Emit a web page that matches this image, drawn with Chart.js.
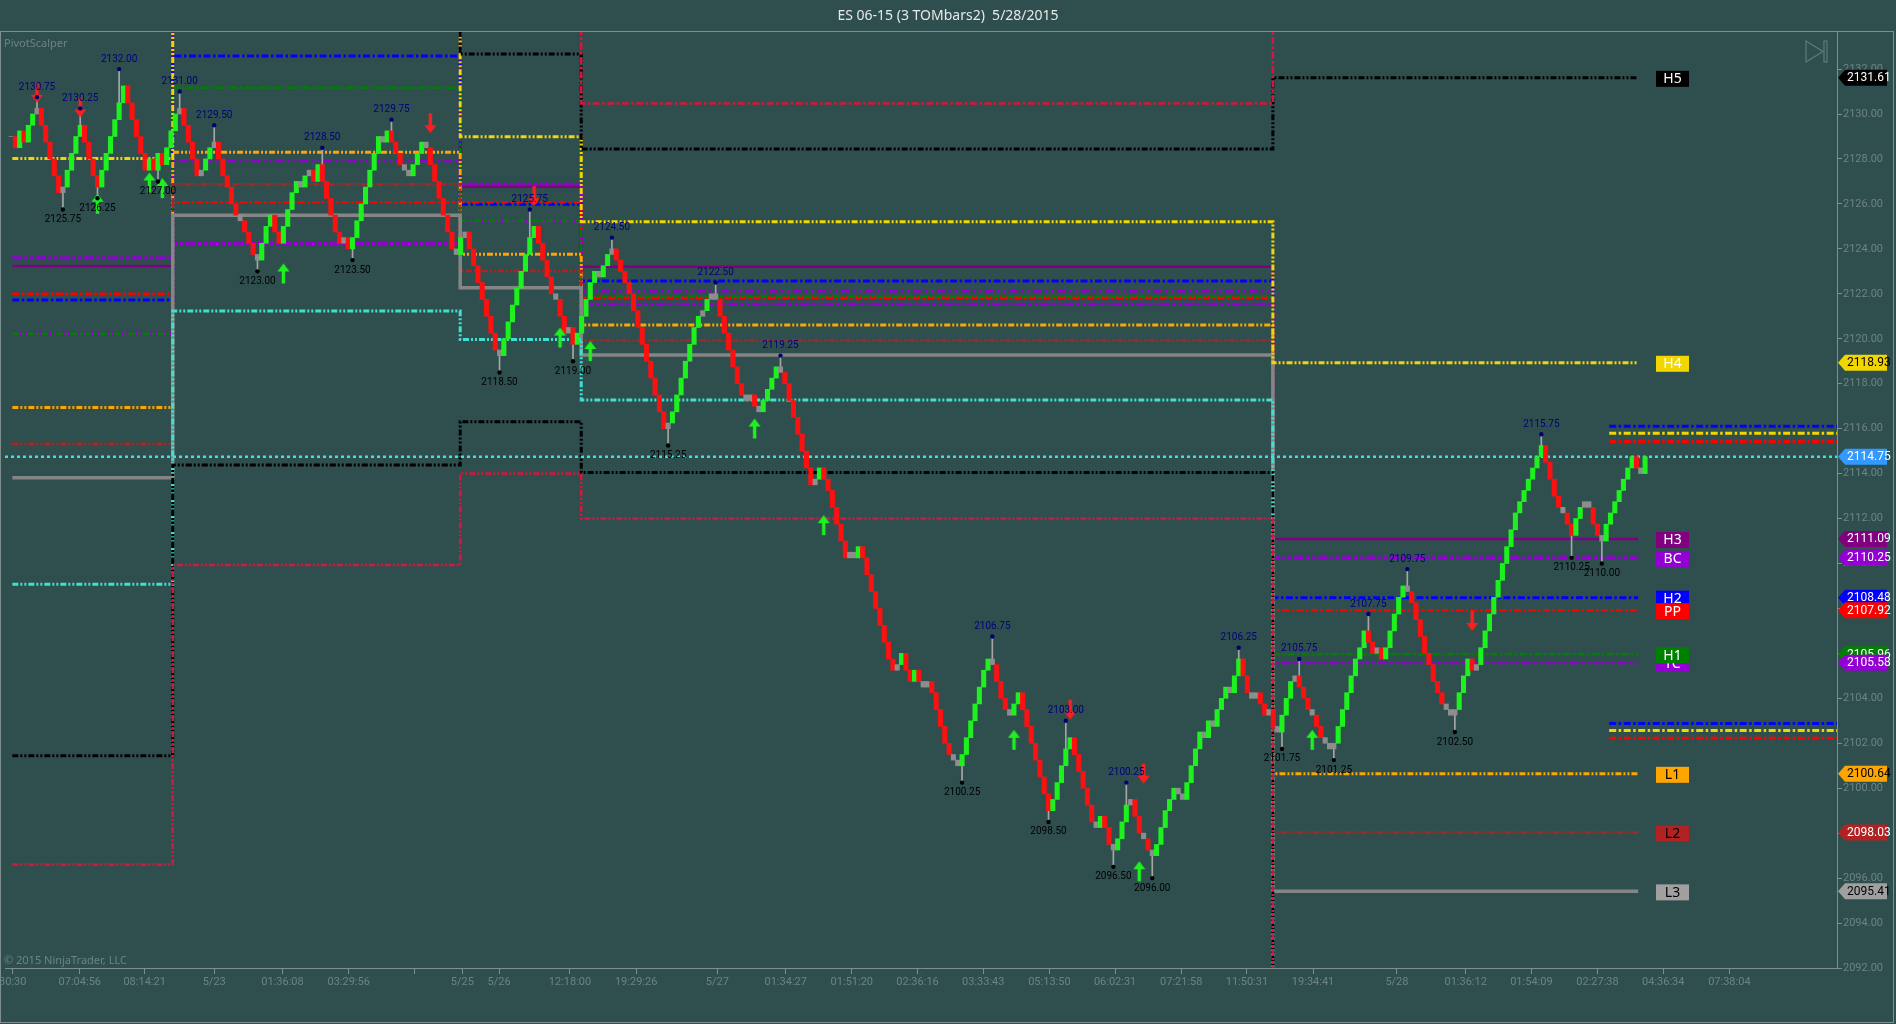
<!DOCTYPE html>
<html>
<head>
<meta charset="utf-8">
<title>ES 06-15 (3 TOMbars2) 5/28/2015</title>
<script src="https://cdn.jsdelivr.net/npm/chart.js@4.4.1/dist/chart.umd.min.js"></script>
<style>
  html, body { margin: 0; padding: 0; background: #2f4f4f; overflow: hidden; }
  canvas { display: block; }
</style>
</head>
<body>
<canvas id="grafico" width="1896" height="1024"></canvas>
<script>
// Cierres de cada barra (3 TOMbars2)
var cierres = [
  2129, 2128.5, 2129.25, 2128.75, 2129.5, 2130, 2130.25,
  2129.5, 2128.75, 2128, 2127.25, 2126.5,
  2126.75, 2127.5, 2128.25, 2129, 2129.5,
  2128.75, 2128, 2127.25, 2126.75,
  2127.5, 2128.25, 2129, 2129.75, 2130.5, 2131.25,
  2130.5, 2129.75, 2129, 2128.25, 2127.5,
  2128, 2127.5, 2128.25, 2127.75,
  2128.5, 2129.25, 2130, 2130.25,
  2129.5, 2128.75, 2128, 2127.25,
  2127.5, 2128, 2128.5, 2128.75,
  2128, 2127.25, 2126.75, 2126, 2125.5, 2125.25, 2124.75, 2124.25, 2123.75, 2123.5,
  2124.25, 2125, 2125.5,
  2124.75, 2124.25,
  2125, 2125.75, 2126.5, 2127, 2126.75, 2127.25, 2127.5, 2127, 2127.75,
  2127, 2126.25, 2125.5, 2124.75, 2124.25, 2124.5, 2124, 2124.5,
  2125.25, 2126, 2126.75, 2127.5, 2128.25, 2129, 2128.75, 2129.25, 2128.75,
  2128.25, 2127.75, 2127.5, 2127.25, 2127.75,
  2128.25, 2128.75, 2128.5,
  2127.75, 2127, 2126.25, 2125.5, 2124.75, 2124, 2123.75, 2124.5, 2124.75, 2124, 2123.25, 2122.5, 2121.75, 2121, 2120.25, 2119.5, 2119.25,
  2120, 2120.75, 2121.5, 2122.25, 2123, 2123.75, 2124.5, 2125,
  2124.25, 2123.5, 2122.75, 2122, 2121.75, 2121, 2120.25, 2120.5, 2119.75, 2120.25,
  2121, 2121.75, 2122.5, 2123, 2122.75, 2123.25, 2123.75, 2124,
  2123.5, 2123, 2122.5, 2122, 2121.25, 2120.5, 2119.75, 2119, 2118.25, 2117.5, 2116.75, 2116, 2116.25,
  2116.75, 2117.5, 2118.25, 2119, 2119.75, 2120.5, 2121, 2121.25, 2121.75, 2122, 2121.75,
  2121, 2120.25, 2119.5, 2118.75, 2118, 2117.5, 2117.25, 2117.5, 2117, 2116.75,
  2117.25, 2117.75, 2118.25, 2118.75,
  2118.5, 2118, 2117.25, 2116.5, 2115.75, 2115, 2114.25, 2113.5, 2113.75, 2114.25, 2113.75, 2113.25,
  2112.5, 2111.75, 2111, 2110.25, 2110.5, 2110.25, 2110.75, 2110.25, 2109.5, 2108.75, 2108, 2107.25,
  2106.5, 2105.75, 2105.25, 2105.5, 2106, 2105.25, 2104.75, 2105.25, 2104.75, 2104.5, 2104.75, 2104.25,
  2103.5, 2102.75, 2102, 2101.5, 2101.25, 2101, 2101.5,
  2102.25, 2103, 2103.75, 2104.5, 2105.25, 2105.75, 2105.5,
  2104.75, 2104, 2103.5, 2103.25,
  2103.75, 2104.25,
  2103.5, 2102.75, 2102, 2101.25, 2100.5, 2099.75, 2099,
  2099.5, 2100.25, 2101, 2101.75, 2102.25,
  2101.5, 2100.75, 2100, 2099.25, 2098.5, 2098.25, 2098.75, 2098.25, 2097.5, 2097.25,
  2097.75, 2098.5, 2099.25, 2099.5,
  2098.75, 2098, 2097.75, 2097.25, 2097,
  2097.5, 2098.25, 2099, 2099.5, 2100, 2099.75, 2099.5, 2100.25, 2101, 2101.75,
  2102.5, 2102.25, 2103, 2102.75, 2103.5, 2104, 2104.5, 2104.25, 2105, 2105.75,
  2105, 2104.25, 2104, 2104.25, 2103.75, 2103.25, 2103.5, 2102.75, 2102.5,
  2103.25, 2104, 2104.75, 2105,
  2104.5, 2104, 2103.5, 2103.25, 2102.75, 2102.25, 2102, 2101.75, 2102,
  2102.75, 2103.5, 2104.25, 2105, 2105.75, 2106.25, 2107,
  2106.5, 2106, 2106.25, 2105.75, 2106.25,
  2107, 2107.75, 2108.5, 2109, 2108.75,
  2108.25, 2107.5, 2106.75, 2106, 2105.5, 2104.75, 2104.25, 2103.75, 2103.5, 2103.25, 2103.5,
  2104.25, 2105, 2105.75, 2105.25, 2105.5, 2106.25, 2107, 2107.75, 2108.5, 2109.25,
  2110, 2110.75, 2111.5, 2112.25, 2112.75, 2113.25, 2113.75, 2114.25, 2114.75, 2115.25,
  2114.5, 2113.75, 2113, 2112.5, 2112.25, 2111.75, 2111.25,
  2112, 2112.5, 2112.75, 2112.5, 2111.75, 2111.25, 2111,
  2111.75, 2112.25, 2112.75, 2113.25, 2113.75, 2114.25, 2114.75, 2114.25, 2114, 2114.75
];

// Inicio de cada sesion (indice de barra) y fin de las lineas de pivote
var sesiones = [0.3, 37.4, 103.9, 131.9, 291.9, 376.4];

// Niveles de pivote por sesion (5/22, 5/23, 5/25, 5/26-27, 5/28)
var H6 = [2140, 2142, 2136, 2130.47, 2136];
var H5 = [2135.6, 2140, 2132.67, 2128.44, 2131.61];
var H4 = [2128.02, 2138.2, 2128.99, 2125.21, 2118.93];
var H3 = [2123.24, 2134.5, 2126.76, 2123.2, 2111.09];
var BC = [2123.6, 2127.92, 2126.88, 2122.12, 2110.25];
var H2 = [2121.73, 2132.58, 2125.98, 2122.57, 2108.48];
var PP = [2122.0, 2126.07, 2126.07, 2121.82, 2107.92];
var H1 = [2120.22, 2131.17, 2125.24, 2121.87, 2105.96];
var TC = [2120.22, 2124.24, 2125.24, 2121.53, 2105.58];
var L1 = [2116.94, 2128.3, 2123.76, 2120.61, 2100.64];
var L2 = [2115.33, 2126.88, 2123.01, 2119.92, 2098.03];
var L3 = [2113.82, 2125.5, 2122.27, 2119.28, 2095.41];
var L4 = [2109.08, 2121.23, 2119.97, 2117.27, 2087.57];
var L5 = [2101.45, 2114.38, 2116.31, 2114.05, 2080];
var L6 = [2096.6, 2109.93, 2114.0, 2112.0, 2075];

// Niveles cortos de la derecha (azul, amarillo, rojo)
var nivelesSup = [2116.11, 2115.79, 2115.43];
var nivelesInf = [2102.88, 2102.57, 2102.22];
var inicioCortos = 369.7;

// Maximos y minimos marcados
var maxIdx = [6, 16, 25, 39, 47, 72, 88, 120, 139, 163, 178, 227, 244, 258, 284, 298, 314, 323, 354];
var maxVal = [2130.75, 2130.25, 2132.00, 2131.00, 2129.50, 2128.50, 2129.75, 2125.75, 2124.50, 2122.50, 2119.25, 2106.75, 2103.00, 2100.25, 2106.25, 2105.75, 2107.75, 2109.75, 2115.75];
var minIdx = [12, 20, 34, 57, 79, 113, 130, 152, 220, 240, 255, 264, 294, 306, 334, 361, 368];
var minVal = [2125.75, 2126.25, 2127.00, 2123.00, 2123.50, 2118.50, 2119.00, 2115.25, 2100.25, 2098.50, 2096.50, 2096.00, 2101.75, 2101.25, 2102.50, 2110.25, 2110.00];

// Flechas de venta (rojas) y compra (verdes): indice y precio de la punta
var ventaIdx = [6, 16, 97, 121, 245, 262, 338];
var ventaVal = [2130.5, 2129.85, 2129.15, 2125.9, 2103.05, 2100.2, 2107.0];
var compraIdx = [20, 32, 35, 63, 127, 134, 172, 188, 232, 261, 301];
var compraVal = [2126.45, 2127.4, 2127.15, 2123.35, 2120.5, 2119.9, 2116.45, 2112.15, 2102.6, 2096.75, 2102.6];

// Eje de tiempo
var marcasX = [0.4, 15.9, 30.9, 47.0, 62.8, 78.1, 93.3, 104.4, 112.9, 129.3, 144.6, 163.4, 179.2, 194.5, 209.7, 224.9, 240.2, 255.4, 270.7, 285.9, 301.2, 320.6, 336.5, 351.7, 367.0, 382.2, 397.5];
var etiquetasX = ['30:30', '07:04:56', '08:14:21', '5/23', '01:36:08', '03:29:56', '', '5/25', '5/26', '12:18:00', '19:29:26', '5/27', '01:34:27', '01:51:20', '02:36:16', '03:33:43', '05:13:50', '06:02:31', '07:21:58', '11:50:31', '19:34:41', '5/28', '01:36:12', '01:54:09', '02:27:38', '04:36:34', '07:38:04'];
var marcasY = [2092, 2094, 2096, 2098, 2100, 2102, 2104, 2106, 2108, 2110, 2112, 2114, 2116, 2118, 2120, 2122, 2124, 2126, 2128, 2130, 2132];

var ultimo = cierres[cierres.length - 1];

// Construir las barras flotantes (apertura = cierre anterior)
var velas = [];
var coloresVelas = [];
for (var i = 0; i < cierres.length; i++) {
  var previo = i > 0 ? cierres[i - 1] : cierres[i];
  var mov = cierres[i] - previo;
  if (Math.abs(mov) <= 0.25) {
    coloresVelas.push('#8d8d8d');
  } else {
    coloresVelas.push(mov > 0 ? '#1ef21e' : '#ff1010');
  }
  velas.push({x: i, y: [previo, cierres[i]]});
}

// Mechas hasta los maximos y minimos marcados
var mechas = [];
maxIdx.forEach(function (k, n) {
  mechas.push({x: k, y: [Math.max(cierres[k], cierres[k - 1]), maxVal[n]]});
});
minIdx.forEach(function (k, n) {
  mechas.push({x: k, y: [Math.min(cierres[k], cierres[k - 1]), minVal[n]]});
});

// Linea escalonada de un nivel a lo largo de las sesiones
function escalon(valores) {
  var pts = [];
  for (var k = 0; k < valores.length; k++) {
    pts.push({x: sesiones[k], y: valores[k]});
    pts.push({x: sesiones[k + 1], y: valores[k]});
  }
  return pts;
}

var rayaPunto = [7, 2.5, 2.5, 2.5];
var rayaPuntoPunto = [6, 2, 2, 2, 2, 2];
var rayado = [9, 3, 3, 3, 3, 3];

function nivel(valores, color, ancho, guiones) {
  return {
    type: 'line', data: escalon(valores), borderColor: color, borderWidth: ancho,
    borderDash: guiones, pointRadius: 0, fill: false, tension: 0, order: 5
  };
}

function corto(valor, color) {
  return {
    type: 'line', data: [{x: inicioCortos, y: valor}, {x: 422.4, y: valor}],
    borderColor: color, borderWidth: 3, borderDash: rayaPunto, pointRadius: 0, fill: false, order: 5
  };
}

// Dibujo de flechas como imagen de punto
function flecha(color, arriba) {
  var c = document.createElement('canvas');
  c.width = 13; c.height = 46;
  var g = c.getContext('2d');
  g.fillStyle = color;
  g.beginPath();
  if (arriba) {
    g.moveTo(6.5, 23); g.lineTo(12.5, 31); g.lineTo(8.2, 31); g.lineTo(8.2, 43);
    g.lineTo(4.8, 43); g.lineTo(4.8, 31); g.lineTo(0.5, 31);
  } else {
    g.moveTo(6.5, 23); g.lineTo(12.5, 15); g.lineTo(8.2, 15); g.lineTo(8.2, 3);
    g.lineTo(4.8, 3); g.lineTo(4.8, 15); g.lineTo(0.5, 15);
  }
  g.closePath();
  g.fill();
  return c;
}

function puntos(indices, valores) {
  return indices.map(function (v, k) { return {x: v, y: valores[k]}; });
}

var datasets = [
  nivel(H6, '#dc143c', 2.5, rayaPunto),
  nivel(H5, '#000000', 3, rayaPuntoPunto),
  nivel(H4, '#f2d600', 3, rayaPuntoPunto),
  nivel(L6, '#dc143c', 2.5, rayaPuntoPunto),
  nivel(L5, '#000000', 3, rayaPuntoPunto),
  nivel(L4, '#40e0d0', 3, rayaPuntoPunto),
  nivel(L3, '#858585', 3.5, []),
  nivel(L2, '#b22222', 2.5, rayaPuntoPunto),
  nivel(L1, '#ffa500', 3, rayaPuntoPunto),
  nivel(H1, '#008000', 2.5, rayaPunto),
  nivel(TC, '#9400d3', 3, rayado),
  nivel(PP, '#ff0000', 2.5, rayaPunto),
  nivel(H2, '#0000ff', 3, rayaPunto),
  nivel(BC, '#9400d3', 3, rayado),
  nivel(H3, '#800080', 2.5, []),
  corto(nivelesSup[0], '#0000ff'), corto(nivelesSup[1], '#f2d600'), corto(nivelesSup[2], '#ff0000'),
  corto(nivelesInf[0], '#0000ff'), corto(nivelesInf[1], '#f2d600'), corto(nivelesInf[2], '#ff0000'),
  {
    type: 'line', data: [{x: -1.4, y: ultimo}, {x: 422.4, y: ultimo}],
    borderColor: '#40e0e0', borderWidth: 2.5, borderDash: [3, 3], pointRadius: 0, fill: false, order: 4
  },
  {
    type: 'bar', data: mechas, backgroundColor: '#a6a6a6', borderWidth: 0,
    barThickness: 1, grouped: false, order: 2
  },
  {
    type: 'bar', data: velas, backgroundColor: coloresVelas, borderWidth: 0,
    barThickness: 4.4, grouped: false, order: 1
  },
  {
    type: 'scatter', data: puntos(maxIdx, maxVal), pointRadius: 2.2, pointBackgroundColor: '#000070',
    pointBorderWidth: 0, order: 0
  },
  {
    type: 'scatter', data: puntos(minIdx, minVal), pointRadius: 2.2, pointBackgroundColor: '#000000',
    pointBorderWidth: 0, order: 0
  },
  {
    type: 'scatter', data: puntos(ventaIdx, ventaVal), pointStyle: flecha('#ff1e1e', false), order: 0
  },
  {
    type: 'scatter', data: puntos(compraIdx, compraVal), pointStyle: flecha('#1ef21e', true), order: 0
  }
];

var tenue = '#6d8383';

// Fondo del lienzo
var fondoPlugin = {
  id: 'fondo',
  beforeDraw: function (chart) {
    var c = chart.ctx;
    c.save();
    c.fillStyle = '#2f4f4f';
    c.fillRect(0, 0, chart.width, chart.height);
    c.restore();
  }
};

// Etiquetas de maximos y minimos
var textosPlugin = {
  id: 'textos',
  afterDatasetsDraw: function (chart) {
    var c = chart.ctx, sx = chart.scales.x, sy = chart.scales.y;
    c.save();
    c.font = '10px Roboto';
    c.textAlign = 'center';
    c.textBaseline = 'bottom';
    c.fillStyle = '#00007a';
    for (var k = 0; k < maxIdx.length; k++) {
      c.fillText(maxVal[k].toFixed(2), sx.getPixelForValue(maxIdx[k]), sy.getPixelForValue(maxVal[k]) - 5);
    }
    c.textBaseline = 'top';
    c.fillStyle = '#000000';
    for (var j = 0; j < minIdx.length; j++) {
      c.fillText(minVal[j].toFixed(2), sx.getPixelForValue(minIdx[j]), sy.getPixelForValue(minVal[j]) + 5);
    }
    c.restore();
  }
};

// Cajas de nivel, etiquetas de precio a la derecha, titulo y marco
var marcoPlugin = {
  id: 'marco',
  afterDraw: function (chart) {
    var c = chart.ctx, sx = chart.scales.x, sy = chart.scales.y, area = chart.chartArea;
    c.save();

    // marco
    c.strokeStyle = '#7d8f8f';
    c.lineWidth = 1;
    c.strokeRect(0.5, 31.5, 1893, 991);

    // titulo
    c.fillStyle = '#e8e8e8';
    c.font = '14px "Noto Sans"';
    c.textAlign = 'center';
    c.textBaseline = 'middle';
    c.fillText('ES 06-15 (3 TOMbars2)  5/28/2015', 948, 16);

    // textos tenues
    c.fillStyle = tenue;
    c.font = '11px "Noto Sans"';
    c.textAlign = 'left';
    c.fillText('PivotScalper', 4, 44);
    c.fillText('\u00a9 2015 NinjaTrader, LLC', 4, 961);

    // etiquetas del eje de tiempo
    c.font = '11px Roboto';
    c.textAlign = 'center';
    c.textBaseline = 'middle';
    for (var k = 0; k < marcasX.length; k++) {
      c.fillText(etiquetasX[k], sx.getPixelForValue(marcasX[k]), 982);
    }

    // icono de avance
    c.strokeStyle = '#5f7b7b';
    c.lineWidth = 1.2;
    c.beginPath();
    c.moveTo(1806, 41); c.lineTo(1823, 51.5); c.lineTo(1806, 62); c.closePath();
    c.stroke();
    c.strokeRect(1824, 41, 3, 21);

    // cajas con el nombre del nivel
    var cajas = [
      ['H5', H5[4], '#000000', '#ffffff'], ['H4', H4[4], '#f2d600', '#ffffff'],
      ['H3', H3[4], '#800080', '#ffffff'], ['BC', BC[4], '#9400d3', '#ffffff'],
      ['H2', H2[4], '#0000ff', '#ffffff'], ['PP', PP[4], '#ff0000', '#ffffff'],
      ['TC', TC[4], '#9400d3', '#ffffff'], ['H1', H1[4], '#008000', '#ffffff'],
      ['L1', L1[4], '#ffa500', '#000000'], ['L2', L2[4], '#b22222', '#000000'],
      ['L3', L3[4], '#a0a0a0', '#000000']
    ];
    c.font = '14px "Noto Sans"';
    c.textAlign = 'center';
    c.textBaseline = 'middle';
    cajas.forEach(function (b) {
      var y = sy.getPixelForValue(b[1]) + 1;
      c.fillStyle = b[2];
      c.fillRect(1656, y - 8, 33, 16);
      c.fillStyle = b[3];
      c.fillText(b[0], 1672.5, y + 0.5);
    });

    // etiquetas de precio sobre el eje
    var marcas = [
      [H5[4], '#000000', '#ffffff'], [H4[4], '#f2d600', '#000000'], [ultimo, '#3399ff', '#ffffff'],
      [H3[4], '#800080', '#ffffff'], [BC[4], '#9400d3', '#ffffff'], [H2[4], '#0000ff', '#ffffff'],
      [PP[4], '#ff0000', '#ffffff'], [H1[4], '#008000', '#ffffff'], [TC[4], '#9400d3', '#ffffff'],
      [L1[4], '#ffa500', '#000000'], [L2[4], '#b22222', '#ffffff'], [L3[4], '#a0a0a0', '#000000']
    ];
    c.font = '12px Roboto';
    c.textAlign = 'left';
    marcas.forEach(function (m) {
      var y = sy.getPixelForValue(m[0]);
      c.fillStyle = m[1];
      c.beginPath();
      c.moveTo(area.right + 1, y);
      c.lineTo(area.right + 8, y - 8);
      c.lineTo(1887, y - 8);
      c.lineTo(1887, y + 8);
      c.lineTo(area.right + 8, y + 8);
      c.closePath();
      c.fill();
      c.fillStyle = m[2];
      c.fillText(m[0].toFixed(2), area.right + 10, y + 0.5);
    });

    c.restore();
  }
};

var ctx = document.getElementById('grafico').getContext('2d');
var grafico = new Chart(ctx, {
  type: 'bar',
  data: { datasets: datasets },
  options: {
    responsive: false,
    animation: false,
    devicePixelRatio: 1,
    layout: { padding: { left: 2, top: 32, right: 3, bottom: 1 } },
    plugins: { legend: { display: false }, tooltip: { enabled: false } },
    scales: {
      x: {
        type: 'linear', min: -1.4, max: 422.4, offset: false,
        grid: { display: true, offset: false, drawOnChartArea: false, drawTicks: true, tickLength: 6, color: '#7d8f8f' },
        border: { display: true, color: '#7d8f8f' },
        ticks: { display: false },
        afterBuildTicks: function (s) { s.ticks = marcasX.map(function (v) { return {value: v}; }); },
        afterFit: function (s) { s.height = 55; }
      },
      y: {
        type: 'linear', position: 'right', min: 2092, max: 2133.65,
        grid: { display: true, drawOnChartArea: false, drawTicks: true, tickLength: 5, color: '#7d8f8f' },
        border: { display: true, color: '#7d8f8f' },
        ticks: {
          color: tenue, font: { family: 'Roboto', size: 11 }, padding: 1,
          callback: function (v) { return Number(v).toFixed(2); }
        },
        afterBuildTicks: function (s) { s.ticks = marcasY.map(function (v) { return {value: v}; }); },
        afterFit: function (s) { s.width = 56; }
      }
    }
  },
  plugins: [fondoPlugin, textosPlugin, marcoPlugin]
});
</script>
</body>
</html>
